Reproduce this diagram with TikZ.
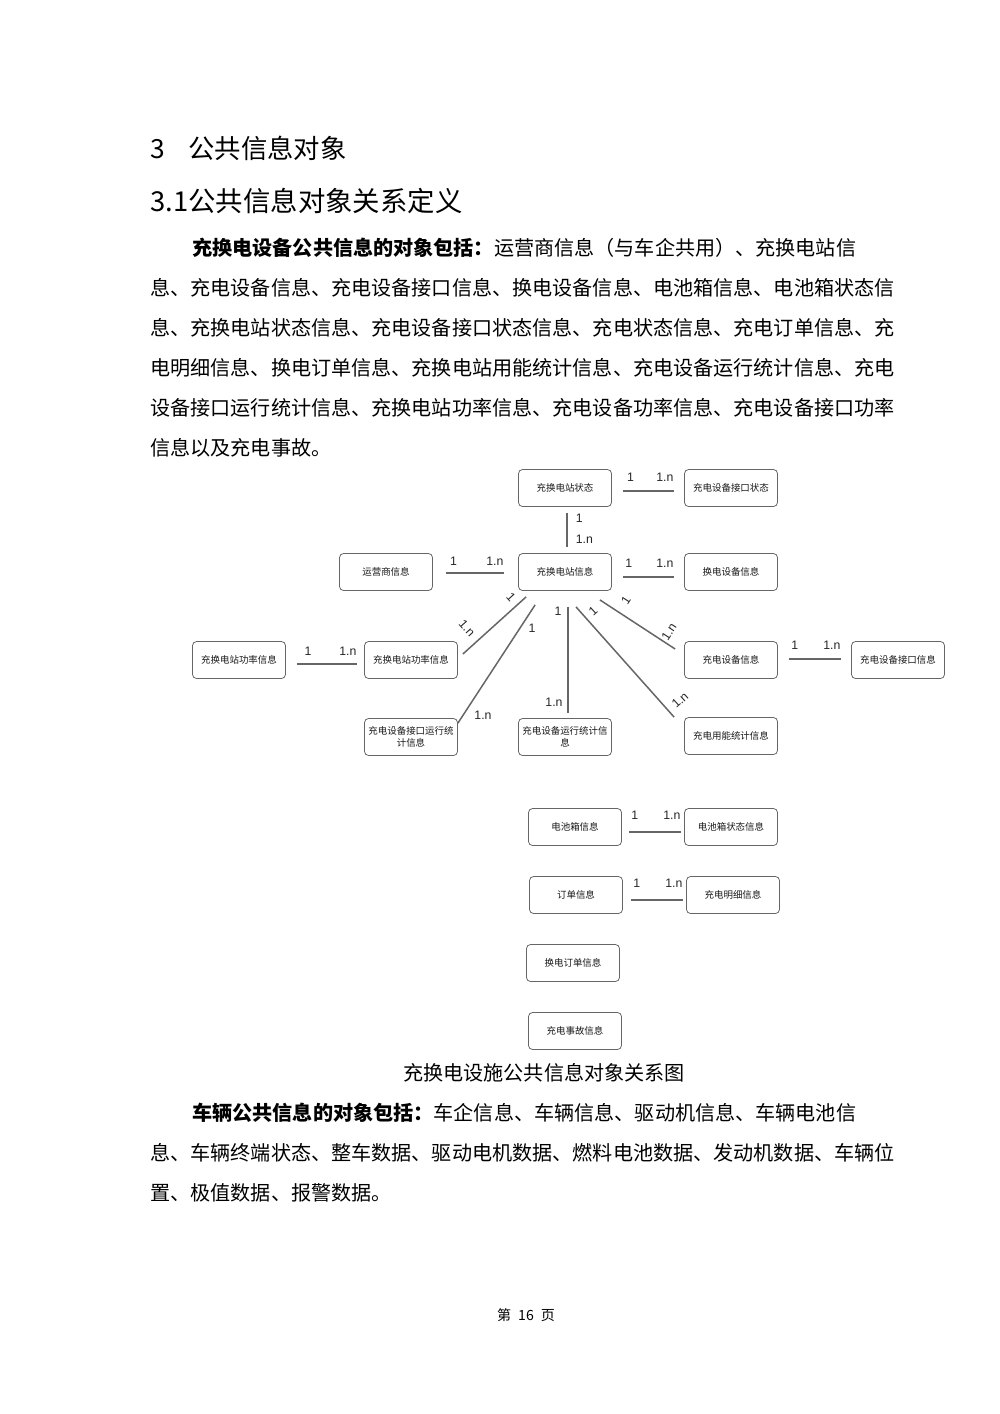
\documentclass[tikz,border=0pt]{standalone}
\usepackage{fontspec}
\setmainfont{Noto Sans CJK SC}
\newfontfamily\numfont{Liberation Sans}
\begin{document}
\begin{tikzpicture}[
x=0.02cm,y=-0.02cm,
box/.style={draw=black!60,line width=0.45pt,rounded corners=0.08cm,minimum width=1.86cm,minimum height=0.74cm,align=center,inner sep=1pt,text=black!90,font=\fontsize{5.4}{7}\selectfont},
rel/.style={draw=black!60,line width=0.85pt},
lab/.style={inner sep=0pt,text=black!85,font=\numfont\fontsize{7}{7}\selectfont},
txt/.style={anchor=base west,inner sep=0pt,font=\fontsize{11.45}{11.45}\selectfont}
]
\useasboundingbox[fill=white] (0,0) rectangle (1000,1414);
% headings
\node (h1)[anchor=base west,inner sep=0pt,font=\fontsize{15}{15}\selectfont] at (150,158) {3};
\node (h2)[anchor=base west,inner sep=0pt,font=\fontsize{15}{15}\selectfont] at (188,158) {公共信息对象};
\node (h3)[anchor=base west,inner sep=0pt,font=\fontsize{15.6}{15.6}\selectfont] at (150,211) {3.1公共信息对象关系定义};
% first paragraph
\node (t1)[txt] at (192,255) {{\bfseries 充换电设备公共信息的对象包括：}运营商信息（与车企共用）、充换电站信};
\node (t2)[txt] at (150,295) {息、充电设备信息、充电设备接口信息、换电设备信息、电池箱信息、电池箱状态信};
\node (t3)[txt] at (150,335) {息、充换电站状态信息、充电设备接口状态信息、充电状态信息、充电订单信息、充};
\node (t4)[txt] at (150,375) {电明细信息、换电订单信息、充换电站用能统计信息、充电设备运行统计信息、充电};
\node (t5)[txt] at (150,415) {设备接口运行统计信息、充换电站功率信息、充电设备功率信息、充电设备接口功率};
\node (t6)[txt] at (150,455) {信息以及充电事故。};
% boxes
\node (1)[box] at (565,488) {充换电站状态};
\node (2)[box] at (565,572) {充换电站信息};
\node (3)[box] at (731,488) {充电设备接口状态};
\node (4)[box] at (386,572) {运营商信息};
\node (5)[box] at (731,572) {换电设备信息};
\node (6)[box] at (239,660) {充换电站功率信息};
\node (7)[box] at (411,660) {充换电站功率信息};
\node (8)[box] at (411,737) {充电设备接口运行统\\计信息};
\node (9)[box] at (565,737) {充电设备运行统计信\\息};
\node (10)[box] at (731,736) {充电用能统计信息};
\node (11)[box] at (731,660) {充电设备信息};
\node (12)[box] at (898,660) {充电设备接口信息};
\node (13)[box] at (575,827) {电池箱信息};
\node (14)[box] at (731,827) {电池箱状态信息};
\node (15)[box] at (576,895) {订单信息};
\node (16)[box] at (733,895) {充电明细信息};
\node (17)[box] at (573,963) {换电订单信息};
\node (18)[box] at (575,1031) {充电事故信息};
% one to many
\draw[rel] ([shift={(11,3)}]1.east) -- ([shift={(-10,3)}]3.west)
  node[lab,pos=0,anchor=south west,xshift=2pt,yshift=0.18cm]{1}
  node[lab,pos=1,anchor=south east,yshift=0.18cm]{1.n};
\draw[rel] ([shift={(2,6)}]1.south) -- ([shift={(2,-6)}]2.north)
  node[lab,pos=0.15,anchor=west,xshift=0.16cm]{1}
  node[lab,pos=0.76,anchor=west,xshift=0.16cm]{1.n};
\draw[rel] ([shift={(13,1)}]4.east) -- ([shift={(-14,1)}]2.west)
  node[lab,pos=0,anchor=south west,xshift=2pt,yshift=0.14cm]{1}
  node[lab,pos=1,anchor=south east,yshift=0.14cm]{1.n};
\draw[rel] ([shift={(11,5)}]2.east) -- ([shift={(-10,5)}]5.west)
  node[lab,pos=0,anchor=south west,xshift=1pt,yshift=0.18cm]{1}
  node[lab,pos=1,anchor=south east,yshift=0.18cm]{1.n};
\draw[rel] ([shift={(11,4)}]6.east) -- ([shift={(-7,4)}]7.west)
  node[lab,pos=0,anchor=south west,xshift=4pt,yshift=0.16cm]{1}
  node[lab,pos=1,anchor=south east,yshift=0.16cm]{1.n};
\draw[rel] ([shift={(11,-1)}]11.east) -- ([shift={(-10,-1)}]12.west)
  node[lab,pos=0,anchor=south west,xshift=1pt,yshift=0.17cm]{1}
  node[lab,pos=1,anchor=south east,yshift=0.17cm]{1.n};
\draw[rel] ([shift={(7,5)}]13.east) -- ([shift={(-3,5)}]14.west)
  node[lab,pos=0,anchor=south west,xshift=1pt,yshift=0.23cm]{1}
  node[lab,pos=1,anchor=south east,yshift=0.23cm]{1.n};
\draw[rel] ([shift={(8,5)}]15.east) -- ([shift={(-3,5)}]16.west)
  node[lab,pos=0,anchor=south west,xshift=1pt,yshift=0.23cm]{1}
  node[lab,pos=1,anchor=south east,yshift=0.23cm]{1.n};
% lines out of the station
\draw[rel] ([shift={(8,6)}]2.south west) -- ([shift={(5,-6)}]7.east);
\draw[rel] ([shift={(17,14)}]2.south west) -- ([shift={(0,5)}]8.north east);
\draw[rel] ([shift={(3,16)}]2.south) -- ([shift={(3,-5)}]9.north);
\draw[rel] ([shift={(11,16)}]2.south) -- ([shift={(-10,0)}]10.north west);
\draw[rel] ([shift={(-12,9)}]2.south east) -- ([shift={(-9,-11)}]11.west);
\node (a1)[lab,rotate=-48] at (511,597) {1};
\node (a2)[lab,rotate=-48] at (467,628) {1.n};
\node (b1)[lab] at (532,628) {1};
\node (b2)[lab] at (483,715) {1.n};
\node (c1)[lab] at (558,611) {1};
\node (c2)[lab] at (554,702) {1.n};
\node (d1)[lab,rotate=42] at (593,611) {1};
\node (d2)[lab,rotate=42] at (680,700) {1.n};
\node (e1)[lab,rotate=57] at (626,600) {1};
\node (e2)[lab,rotate=57] at (669,632) {1.n};
% caption and second paragraph
\node (cap)[anchor=base,inner sep=0pt,font=\fontsize{11.45}{11.45}\selectfont] at (544,1080) {充换电设施公共信息对象关系图};
\node (v1)[txt] at (192,1120) {{\bfseries 车辆公共信息的对象包括：}车企信息、车辆信息、驱动机信息、车辆电池信};
\node (v2)[txt] at (150,1160) {息、车辆终端状态、整车数据、驱动电机数据、燃料电池数据、发动机数据、车辆位};
\node (v3)[txt] at (150,1200) {置、极值数据、报警数据。};
\node (pg)[anchor=base,inner sep=0pt,font=\fontsize{8}{8}\selectfont] at (526,1320) {第\hspace{0.5em}16\hspace{0.5em}页};
\end{tikzpicture}
\end{document}
